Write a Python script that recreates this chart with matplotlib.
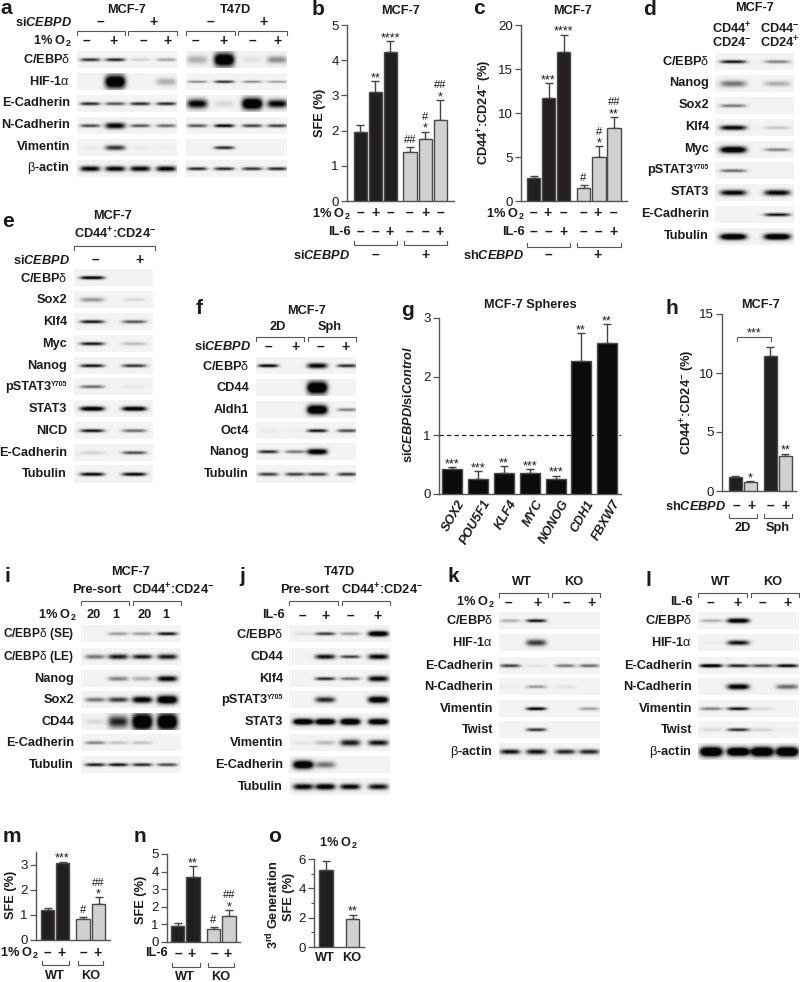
import numpy as np
import matplotlib
matplotlib.use("Agg")
import matplotlib.pyplot as plt

plt.rcParams.update({
    "font.family": ["Liberation Sans", "DejaVu Sans"],
    "mathtext.fontset": "custom",
    "mathtext.default": "bf",
    "mathtext.bf": "Liberation Sans:bold",
    "mathtext.rm": "Liberation Sans",
    "mathtext.it": "Liberation Sans:bold:italic",
})

W, H = 800, 982
INK = "#1c1a1b"
AXC = "#555555"
DARK = "#231f20"
LIGHT = "#cfd1d2"
FS = 9.2

# ---------------- bar data ----------------
b_values = [1.95, 3.1, 4.22, 1.39, 1.76, 2.3]
b_errors = [0.22, 0.3, 0.32, 0.13, 0.21, 0.57]
b_stars = ["", "**", "****", "##", "#\n*", "##\n*"]
c_values = [2.6, 11.7, 16.9, 1.45, 5.0, 8.3]
c_errors = [0.2, 1.7, 2.0, 0.35, 1.2, 1.25]
c_stars = ["", "***", "****", "#", "#\n*", "##\n**"]
g_genes = ["SOX2", "POU5F1", "KLF4", "MYC", "NONOG", "CDH1", "FBXW7"]
g_values = [0.42, 0.26, 0.35, 0.35, 0.26, 2.27, 2.58]
g_errors = [0.04, 0.13, 0.12, 0.07, 0.05, 0.47, 0.31]
g_stars = ["***", "***", "**", "***", "***", "**", "**"]
h_values = [1.15, 0.75, 11.45, 2.95]
h_errors = [0.13, 0.06, 0.75, 0.2]
h_stars = ["", "*", "", "**"]
m_values = [1.18, 3.05, 0.82, 1.43]
m_errors = [0.08, 0.07, 0.08, 0.27]
m_stars = ["", "***", "#", "##\n*"]
n_values = [0.92, 3.7, 0.75, 1.47]
n_errors = [0.15, 0.6, 0.08, 0.35]
n_stars = ["", "**", "#", "##\n*"]
o_values = [5.25, 1.9]
o_errors = [0.6, 0.3]
o_stars = ["", "**"]

# ---------------- blot band data: label, band strength per lane (or strength, thickness) ----------------
a1_rows = [("C/EBP$\\mathrm{δ}$", [.85, .9, .15, .35]),
           ("HIF-1$\\mathrm{α}$", [0, (1.5, 6.5), 0, (.3, 3.5)]),
           ("E-Cadherin", [.9, .7, .9, .9]),
           ("N-Cadherin", [.75, (1.1, 3), .7, .6]),
           ("Vimentin", [.05, (.85, 2.5), .05, .03]),
           ("$\\mathrm{β}$-actin", [(1.1, 2.6), (1.1, 2.6), (1.1, 2.6), (1.1, 2.6)])]
a2_rows = [("", [(.3, 4), (1.5, 6.5), (.08, 3), (.45, 3.5)]),
           ("", [(.5, 1.1), (.9, 1.3), (.5, 1.1), (.4, 1.1)]),
           ("", [(1.1, 4.5), (.12, 3), (1.6, 5.5), (1.1, 4)]),
           ("", [.7, 1.1, .8, .8]),
           ("", [0, .9, 0, 0]),
           ("", [.9, .9, .85, .9])]
d_rows = [("C/EBP$\\mathrm{δ}$", [1.0, .5]),
          ("Nanog", [(.55, 3.2), (.3, 2.6)]),
          ("Sox2", [.55, 0]),
          ("Klf4", [(1.1, 2.4), .2]),
          ("Myc", [(1.4, 3.2), .5]),
          ("pSTAT3|Y705", [.6, 0]),
          ("STAT3", [(1.1, 2.8), (1.1, 2.8)]),
          ("E-Cadherin", [0, 1.0]),
          ("Tubulin", [(1.5, 3), (1.5, 3)])]
e_rows = [("C/EBP$\\mathrm{δ}$", [1.2, 0]),
          ("Sox2", [(.4, 2.2), .12]),
          ("Klf4", [1.0, .7]),
          ("Myc", [1.0, .25]),
          ("Nanog", [1.0, .85]),
          ("pSTAT3|Y705", [.6, .05]),
          ("STAT3", [(1.3, 2.2), (1.3, 2.2)]),
          ("NICD", [1.0, .6]),
          ("E-Cadherin", [.15, .75]),
          ("Tubulin", [1.1, 1.1])]
f_rows = [("C/EBP$\\mathrm{δ}$", [1.1, 0, (1.1, 2.6), .9]),
          ("CD44", [0, 0, (1.6, 6), 0]),
          ("Aldh1", [0, 0, (1.6, 4.5), .5]),
          ("Oct4", [.05, .03, 1.0, .75]),
          ("Nanog", [.9, .55, (1.3, 2.8), 0]),
          ("Tubulin", [.8, .8, .8, .8])]
i_rows = [("C/EBP$\\mathrm{δ}$ (SE)", [0, .4, .4, 1.0]),
          ("C/EBP$\\mathrm{δ}$ (LE)", [(.55, 2.2), (.95, 2.6), (.95, 2.3), (.95, 2.6)]),
          ("Nanog", [0, (.5, 2.2), (.3, 2.2), (1.1, 2.8)]),
          ("Sox2", [(.55, 2.2), (.8, 2.5), (1.2, 3.2), (1.5, 4)]),
          ("CD44", [(.1, 3), (.9, 6), (1.6, 8), (1.6, 8)]),
          ("E-Cadherin", [.5, .22, .22, 0]),
          ("Tubulin", [.95, 1.0, .9, .75])]
j_rows = [("C/EBP$\\mathrm{δ}$", [.1, .8, .4, (1.4, 2.6)]),
          ("CD44", [0, (1.0, 2.4), .8, (1.1, 2.6)]),
          ("Klf4", [0, .9, .6, (1.1, 2.8)]),
          ("pSTAT3|Y705", [0, (.9, 2.8), 0, (1.4, 3.2)]),
          ("STAT3", [(1.5, 3), (1.5, 3), (1.5, 3.2), (1.4, 3)]),
          ("Vimentin", [.06, (.25, 2.2), (.95, 3.2), (1.0, 2.8)]),
          ("E-Cadherin", [(1.5, 4), (.55, 3.2), 0, 0]),
          ("Tubulin", [(1.1, 3), (1.2, 3), (1.1, 2.8), (1.0, 2.8)])]
k_rows = [("C/EBP$\\mathrm{δ}$", [.3, 1.0, 0, 0]),
          ("HIF-1$\\mathrm{α}$", [0, (.8, 3.2), 0, 0]),
          ("E-Cadherin", [.8, .08, .55, .6]),
          ("N-Cadherin", [.03, .4, .08, 0]),
          ("Vimentin", [0, 1.1, 0, .35]),
          ("Twist", [0, .85, 0, 0]),
          ("$\\mathrm{β}$-actin", [(1.0, 2.4), (1.0, 2.6), (.9, 2.4), (.9, 2.4)])]
l_rows = [("C/EBP$\\mathrm{δ}$", [.3, (1.3, 2.3), 0, 0]),
          ("HIF-1$\\mathrm{α}$", [.03, (1.0, 2.4), 0, 0]),
          ("E-Cadherin", [1.4, .95, .75, 1.1]),
          ("N-Cadherin", [0, (1.2, 2.8), 0, (.6, 2.4)]),
          ("Vimentin", [.5, 1.0, .12, 0]),
          ("Twist", [.12, .85, .15, .03]),
          ("$\\mathrm{β}$-actin", [(1.8, 4.5), (1.8, 4), (1.8, 4.5), (1.8, 4.5)])]

fig = plt.figure(figsize=(W / 100, H / 100), dpi=100, facecolor="white")
ov = fig.add_axes([0, 0, 1, 1], zorder=5)
ov.set_axis_off()
ov.patch.set_alpha(0)


def T(x, y, s, ha="center", size=FS, weight="bold", **kw):
    ov.text(x, y, s, ha=ha, va="center", fontsize=size, fontweight=weight, color=INK, **kw)


def letter(x, y, s):
    T(x, y, s, ha="center", size=15)


def bracket(x0, x1, y, d=4):
    ov.plot([x0, x0, x1, x1], [y + d, y, y, y + d], color="#555555", lw=0.8, solid_joinstyle="miter")


def signs(xs, y, marks, size=10):
    for x, m in zip(xs, marks):
        T(x, y, "–" if m == "-" else "+", size=size)


def blot(x0, x1, yc, rows, lanes, w=10, h=17, bg=0.93, t0=1.6, labx=None, labsize=FS):
    for (label, vals), y in zip(rows, yc):
        xx = np.arange(x0, x1, 0.5)
        yy = np.arange(y - h / 2, y + h / 2, 0.5)
        X, Y = np.meshgrid(xx, yy)
        dark = np.zeros_like(X)
        for cx, v in zip(lanes, vals):
            s, t = v if isinstance(v, tuple) else (v, t0)
            dark += s * np.exp(-np.abs((X - cx) / w) ** 4) * np.exp(-((Y - y) / t) ** 2)
        img = bg * (1 - np.clip(dark, 0, 1)) + 0.02
        ov.imshow(img, extent=(x0, x1, y + h / 2, y - h / 2), cmap="gray", vmin=0, vmax=1,
                  aspect="auto", interpolation="bilinear", zorder=1)
        if label and labx is not None:
            if "|" in label:
                main, sup = label.split("|")
                T(labx - 16, y, main, ha="right")
                T(labx, y - 2.5, sup, ha="right", size=5)
            else:
                T(labx, y, label, ha="right", size=labsize if "(" in label else FS)


def bars(x0, x1, ytop, ybot, ymin, ymax, centers, width, vals, errs, colors, ticks, stars=None,
         minor=None):
    ax = fig.add_axes([x0 / W, 1 - ybot / H, (x1 - x0) / W, (ybot - ytop) / H], zorder=3)
    ax.set_xlim(x0, x1)
    ax.set_ylim(ymin, ymax)
    ax.patch.set_alpha(0)
    ax.bar(centers, vals, width=width, color=colors, edgecolor="#4a4a4a", linewidth=1.0, zorder=3)
    ax.errorbar(centers, vals, yerr=[np.zeros(len(vals)), errs], fmt="none", ecolor="#444444",
                elinewidth=1.0, capsize=3, capthick=1.0, zorder=2)
    for s in ("top", "right"):
        ax.spines[s].set_visible(False)
    for s in ("left", "bottom"):
        ax.spines[s].set_color(AXC)
        ax.spines[s].set_linewidth(1.0)
    ax.set_xticks([])
    ax.set_yticks(ticks)
    if minor:
        ax.set_yticks(minor, minor=True)
        ax.tick_params(axis="y", which="minor", length=2.5, width=0.8, color=AXC)
    ax.tick_params(axis="y", length=4, width=0.9, color=AXC, labelsize=9.5, labelcolor=INK, pad=2)
    if stars:
        for c, v, e, s in zip(centers, vals, errs, stars):
            if not s:
                continue
            parts = s.split("\n")
            if len(parts) == 2:
                offs = [11.5, 0]
            else:
                offs = [4.5 if "#" in s else 0]
            for part, off in zip(parts, offs):
                ax.annotate(part, (c, v + e), xytext=(0, off * 0.72), textcoords="offset points",
                            ha="center", va="baseline", fontsize=8 if "#" in part else 9,
                            color=INK, annotation_clip=False)
    return ax


# ---- panel a ----
letter(6, 8.5, "a")
T(127, 10, "MCF-7")
T(236, 10, "T47D")
T(72, 22, "si$\\mathit{CEBPD}$", ha="right")
signs([100, 153, 210, 263], 22, "-+-+")
for p, q in [(77, 125), (128, 177), (186, 235), (238, 287)]:
    bracket(p, q, 31)
T(72, 41, "1% O$_{2}$", ha="right")
signs([86, 114, 143, 168, 195, 224, 252, 277], 41, "-+-+-+-+")
a_y = [59, 81, 103, 125, 147, 168]
blot(77, 177, a_y, a1_rows, [90, 115, 140, 166], labx=70)
blot(186, 287, a_y, a2_rows, [197, 224, 252, 277])

# ---- panel b ----
letter(318, 9, "b")
T(400, 11, "MCF-7")
colors6 = [DARK] * 3 + [LIGHT] * 3
ax = bars(347, 454, 25, 201, 0, 5, [360.5, 375.5, 390.5, 410, 425.5, 440.5], 13.5, b_values, b_errors,
          colors6, [0, 1, 2, 3, 4, 5], b_stars)
T(320, 113, "SFE (%)", rotation=90)
T(351, 214, "1% O$_{2}$", ha="right")
T(351, 232, "IL-6", ha="right")
signs([360, 375, 390, 409, 425, 440], 213, "-+--+-")
signs([360, 375, 390, 409, 425, 440], 232, "--+--+")
T(350, 255, "si$\\mathit{CEBPD}$", ha="right")
bracket(354, 397, 245, -4)
bracket(404, 447, 245, -4)
signs([375, 425], 255, "-+")

# ---- panel c ----
letter(479, 8.5, "c")
T(573, 11, "MCF-7")
bars(521, 627, 25, 201, 0, 20, [533.5, 548.5, 563.5, 583.5, 599, 614], 13.5, c_values, c_errors,
     colors6, [0, 5, 10, 15, 20], c_stars)
T(485, 112, "CD44$^{+}$:CD24$^{-}$ (%)", rotation=90)
T(525, 214, "1% O$_{2}$", ha="right")
T(525, 232, "IL-6", ha="right")
signs([533, 548, 563, 583, 598, 613], 213, "-+--+-")
signs([533, 548, 563, 583, 598, 613], 232, "--+--+")
T(524, 255, "sh$\\mathit{CEBPD}$", ha="right")
bracket(527, 570, 247, -4)
bracket(577, 621, 247, -4)
signs([548, 598], 255, "-+")

# ---- panel d ----
letter(650, 9, "d")
T(755, 8, "MCF-7")
T(732, 29, "CD44$^{+}$")
T(732, 43, "CD24$^{-}$")
T(780, 29, "CD44$^{-}$")
T(780, 43, "CD24$^{+}$")
blot(715, 794, [61, 83, 105, 127, 149, 170, 192, 214, 236], d_rows, [733, 777], w=13, labx=709)

# ---- panel e ----
letter(8, 221, "e")
T(113, 216, "MCF-7")
T(115, 234, "CD44$^{+}$:CD24$^{-}$")
bracket(74, 155, 246)
T(70, 260, "si$\\mathit{CEBPD}$", ha="right")
signs([95, 140], 260, "-+")
blot(74, 153, [278, 300, 322, 344, 366, 387, 409, 431, 453, 474], e_rows, [92, 134], w=12, labx=67)

# ---- panel f ----
letter(199, 309, "f")
T(306, 311, "MCF-7")
T(278, 327, "2D")
T(330, 327, "Sph")
bracket(256, 304, 337)
bracket(308, 356, 337)
T(251, 347, "si$\\mathit{CEBPD}$", ha="right")
signs([268, 295, 320, 346], 347, "-+-+")
blot(256, 356, [366, 388, 410, 431, 452, 474], f_rows, [268, 295, 317, 347], w=10, labx=249)

# ---- panel g ----
letter(407, 310, "g")
T(530, 305, "MCF-7 Spheres")
g_c = [452, 478, 504, 530, 556, 581, 607]
gx = bars(439, 621, 318, 494, 0, 3, g_c, 19.5, g_values, g_errors, ["#0b0b0b"] * 7, [0, 1, 2, 3], g_stars)
gx.axhline(1, color="#222222", lw=0.9, ls=(0, (3.5, 2.5)), zorder=1)
T(408, 405, "si$\\mathit{CEBPD}$/si$\\mathit{Control}$", rotation=90)
for c, name in zip(g_c, g_genes):
    ov.text(c + 5, 498, name, rotation=60, rotation_mode="anchor", ha="right", va="top",
            fontsize=FS, fontweight="bold", fontstyle="italic", color=INK)

# ---- panel h ----
letter(672, 309, "h")
T(760, 305, "MCF-7")
bars(722, 796, 314, 491, 0, 15, [735.5, 750.5, 770.5, 785.5], 13.5, h_values, h_errors,
     [DARK, LIGHT, DARK, LIGHT], [0, 5, 10, 15], h_stars)
T(688, 402, "CD44$^{+}$:CD24$^{-}$ (%)", rotation=90)
bracket(737, 771, 337)
T(754, 333, "***", size=9, weight="normal")
T(726, 507, "sh$\\mathit{CEBPD}$", ha="right")
signs([736, 751, 770, 785], 506, "-+-+")
bracket(729, 757, 518, -4)
bracket(764, 792, 518, -4)
T(743, 528, "2D")
T(778, 528, "Sph")

# ---- panel i ----
letter(7, 576, "i")
T(131, 572, "MCF-7")
T(97, 590, "Pre-sort")
T(173, 590, "CD44$^{+}$:CD24$^{-}$")
bracket(81, 129, 601)
bracket(133, 181, 601)
T(77, 615, "1% O$_{2}$", ha="right")
for x, s in zip([94, 116, 145, 166], ["20", "1", "20", "1"]):
    T(x, 615, s)
row_y = [634, 657, 679, 700, 722, 743, 765, 787]
blot(81, 181, row_y, i_rows, [95, 118, 142, 167], w=10, labx=74, labsize=8.6)

# ---- panel j ----
letter(242, 576, "j")
T(339, 572, "T47D")
T(305, 590, "Pre-sort")
T(382, 590, "CD44$^{+}$:CD24$^{-}$")
bracket(289, 338, 601)
bracket(342, 390, 601)
T(285, 615, "IL-6", ha="right")
signs([302, 326, 350, 378], 616, "-+-+")
blot(289, 390, row_y, j_rows, [303, 325, 350, 378], w=10, labx=283)

# ---- panel k ----
letter(453, 576, "k")
T(522, 582, "WT")
T(574, 582, "KO")
bracket(499, 548, 593)
bracket(552, 600, 593)
T(495, 602, "1% O$_{2}$", ha="right")
signs([508, 537, 566, 591], 603, "-+-+")
row_k = [621, 643, 666, 687, 709, 730, 752]
blot(499, 600, row_k, k_rows, [510, 536, 565, 589], w=10, labx=493)

# ---- panel l ----
letter(648, 580, "l")
T(721, 582, "WT")
T(773, 582, "KO")
bracket(698, 747, 593)
bracket(751, 799, 593)
T(693, 602, "IL-6", ha="right")
signs([710, 737, 762, 788], 603, "-+-+")
blot(698, 799, row_k, l_rows, [711, 738, 762, 787], w=11, labx=692)

# ---- panel m ----
colors4 = [DARK, DARK, LIGHT, LIGHT]
letter(12, 837, "m")
bars(36, 110, 852, 940, 0, 3.5, [47.5, 62.5, 83, 98.5], 13.5, m_values, m_errors, colors4,
     [0, 1, 2, 3], m_stars)
T(11, 895, "SFE (%)", rotation=90)
T(39, 953, "1% O$_{2}$", ha="right")
signs([47, 62, 83, 98], 953, "-+-+")
bracket(42, 69, 965, -4)
bracket(78, 103, 965, -4)
T(55, 976, "WT")
T(91, 976, "KO")

# ---- panel n ----
letter(140, 837, "n")
bars(167, 240, 854, 942, 0, 5, [177.5, 193, 213.5, 229], 13.5, n_values, n_errors, colors4,
     [0, 1, 2, 3, 4, 5], n_stars)
T(141, 900, "SFE (%)", rotation=90)
T(168, 953, "IL-6", ha="right")
signs([178, 192, 214, 228], 954, "-+-+")
bracket(172, 200, 967, -4)
bracket(208, 234, 967, -4)
T(185, 977, "WT")
T(221, 977, "KO")

# ---- panel o ----
letter(275, 837, "o")
T(338, 843, "1% O$_{2}$")
bars(314, 364, 859, 947, 0, 6, [326, 352.5], 13.5, o_values, o_errors, [DARK, LIGHT],
     [0, 2, 4, 6], o_stars, minor=[1, 3, 5])
T(273, 905, "3$^{rd}$ Generation", rotation=90)
T(289, 897, "SFE (%)", rotation=90)
T(325, 958, "WT")
T(352, 958, "KO")

ov.set_xlim(0, W)
ov.set_ylim(H, 0)
fig.savefig("out.png", dpi=100, facecolor="white")
